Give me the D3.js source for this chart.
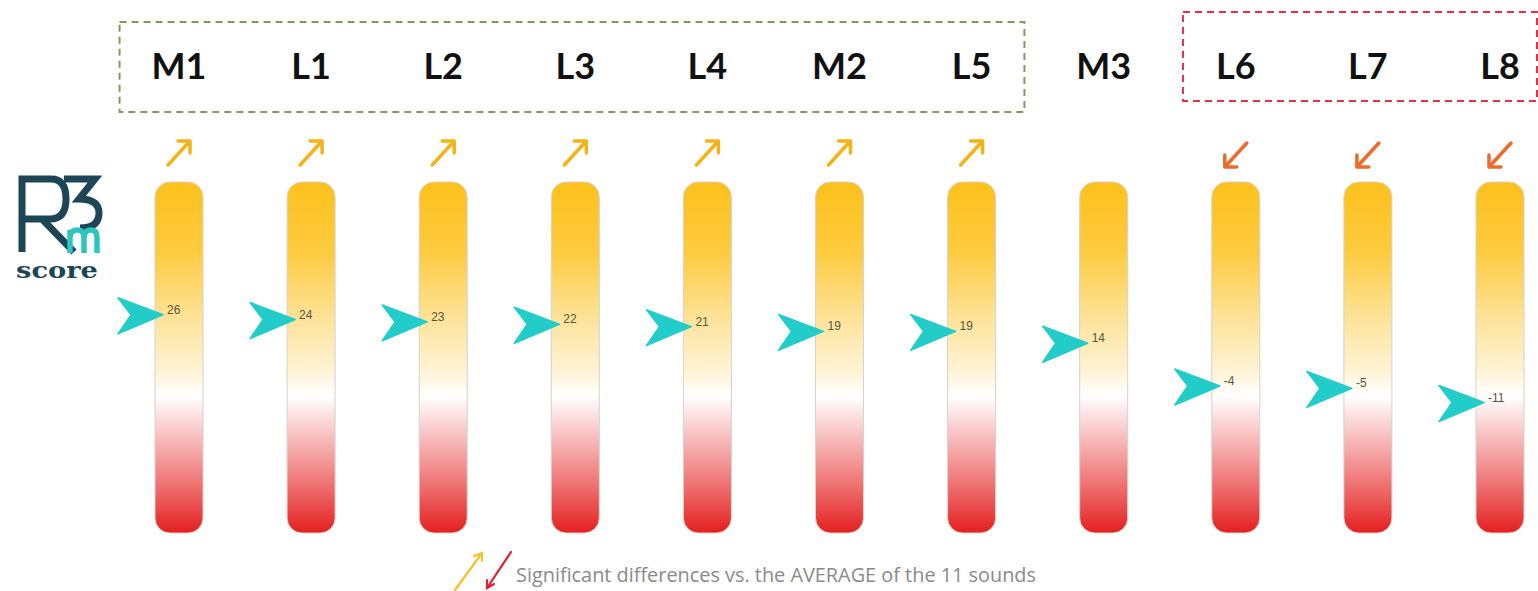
<!DOCTYPE html>
<html>
<head>
<meta charset="utf-8">
<script src="https://cdn.jsdelivr.net/npm/d3@7"></script>
<style>
  html, body { margin: 0; padding: 0; background: #ffffff; }
  svg { display: block; }
</style>
</head>
<body>
<div id="chart"></div>
<script>
// Sounds, their R3m scores and the direction of a significant gap vs. the average
const sounds = ["M1", "L1", "L2", "L3", "L4", "M2", "L5", "M3", "L6", "L7", "L8"];
const scores = [26, 24, 23, 22, 21, 19, 19, 14, -4, -5, -11];
const significance = ["up", "up", "up", "up", "up", "up", "up", "none", "down", "down", "down"];
const aboveAverage = ["M1", "L1", "L2", "L3", "L4", "M2", "L5"];
const belowAverage = ["L6", "L7", "L8"];
const scoreDomain = [-66, 82];
const legendText = "Significant differences vs. the AVERAGE of the 11 sounds";

const W = 1538, H = 591;
const svg = d3.select("#chart").append("svg")
  .attr("width", W).attr("height", H)
  .attr("viewBox", `0 0 ${W} ${H}`);

const x = d3.scalePoint().domain(sounds).range([179, 1500]);
const y = d3.scaleLinear().domain(scoreDomain).range([533, 182]);
const barW = 48;

const defs = svg.append("defs");
const grad = defs.append("linearGradient")
  .attr("id", "thermo").attr("x1", 0).attr("y1", 0).attr("x2", 0).attr("y2", 1);
[
  [0.00, "#fdc11c"],
  [0.20, "#fdcb40"],
  [0.38, "#fde295"],
  [0.54, "#fff3d6"],
  [0.61, "#ffffff"],
  [0.67, "#fbdede"],
  [0.78, "#f4a0a0"],
  [0.88, "#ed6868"],
  [1.00, "#e41f1f"]
].forEach(([o, c]) => grad.append("stop").attr("offset", o).attr("stop-color", c));

// R3m score logo
const logo = svg.append("g").attr("class", "logo");
logo.append("path")
  .attr("d", "M22,252 V179 H51 Q66,179 66,199 Q66,219 50,219 H24 M42,219 L74,252")
  .attr("fill", "none").attr("stroke", "#1c4656").attr("stroke-width", 7)
  .attr("stroke-linejoin", "miter");
logo.append("path")
  .attr("d", "M64,179 H95 L79,199 Q99,199 99,213 Q99,228 80,228")
  .attr("fill", "none").attr("stroke", "#1c4656").attr("stroke-width", 7);
logo.append("path")
  .attr("d", "M70,253 V230 M70,237 Q70,230 78,230 Q84,230 84,238 V253 M84,238 Q84,230 91,230 Q97,230 97,238 V253")
  .attr("fill", "none").attr("stroke", "#2cc6bf").attr("stroke-width", 5.5);
logo.append("text")
  .attr("x", 16).attr("y", 278)
  .attr("textLength", 82).attr("lengthAdjust", "spacingAndGlyphs")
  .attr("font-family", "DejaVu Serif").attr("font-weight", "bold")
  .attr("font-size", 23).attr("fill", "#1c4656")
  .text("score");

// Dashed group frames
const step = x.step();
svg.append("rect")
  .attr("x", x(aboveAverage[0]) - step * 0.45)
  .attr("y", 22)
  .attr("width", x(aboveAverage[aboveAverage.length - 1]) - x(aboveAverage[0]) + step * 0.85)
  .attr("height", 90)
  .attr("fill", "none").attr("stroke", "#7f9c5a").attr("stroke-width", 2)
  .attr("stroke-dasharray", "7,5");
svg.append("rect")
  .attr("x", x(belowAverage[0]) - step * 0.4)
  .attr("y", 12)
  .attr("width", W - 1 - (x(belowAverage[0]) - step * 0.4))
  .attr("height", 89)
  .attr("fill", "none").attr("stroke", "#e0324c").attr("stroke-width", 2)
  .attr("stroke-dasharray", "7,5");

// Sound names
svg.append("g").selectAll("text")
  .data(sounds).join("text")
  .attr("x", d => x(d)).attr("y", 79)
  .attr("text-anchor", "middle")
  .attr("font-family", "Lato").attr("font-weight", "bold")
  .attr("font-size", 36).attr("fill", "#111")
  .text(d => d);

// Significance arrows
const sig = svg.append("g").selectAll("g")
  .data(sounds.map((s, i) => ({ s, dir: significance[i] })).filter(d => d.dir !== "none"))
  .join("g")
  .attr("transform", d => `translate(${x(d.s)},${d.dir === "up" ? 153 : 155})`)
  .attr("fill", "none").attr("stroke-width", 3.5)
  .attr("stroke-linecap", "round").attr("stroke-linejoin", "round")
  .attr("stroke", d => d.dir === "up" ? "#f4b318" : "#ee6a2c");
sig.append("path")
  .attr("d", d => d.dir === "up"
    ? "M-11,12 L11,-12 M-1,-12 H11 V0"
    : "M11,-12 L-11,12 M-11,0 V12 H1");

// Thermometer bars
const bars = svg.append("g").selectAll("g")
  .data(sounds.map((s, i) => ({ s, v: scores[i] })))
  .join("g");
bars.append("rect")
  .attr("x", d => x(d.s) - barW / 2)
  .attr("y", y(scoreDomain[1]))
  .attr("width", barW)
  .attr("height", y(scoreDomain[0]) - y(scoreDomain[1]))
  .attr("rx", 15)
  .attr("fill", "url(#thermo)")
  .attr("stroke", "#d8d2c8").attr("stroke-width", 1);

// Score pointers and values
const tipOffset = 8;
bars.append("path")
  .attr("d", d => {
    const tx = x(d.s) - barW / 2 + tipOffset, ty = y(d.v);
    return `M${tx},${ty} L${tx - 45},${ty - 17} L${tx - 32},${ty} L${tx - 45},${ty + 19} Z`;
  })
  .attr("fill", "#22cdc9").attr("stroke", "#22cdc9").attr("stroke-width", 1.5)
  .attr("stroke-linejoin", "round");
bars.append("text")
  .attr("x", d => x(d.s) - barW / 2 + tipOffset + 4)
  .attr("y", d => y(d.v) - 1)
  .attr("font-family", "Liberation Sans").attr("font-size", 12)
  .attr("fill", "#5a5540")
  .text(d => d.v);

// Legend
const lg = svg.append("g").attr("fill", "none").attr("stroke-width", 2.2).attr("stroke-linecap", "round");
lg.append("path").attr("d", "M455,590 L482,553 M474,556 L482,553 L482,561").attr("stroke", "#f5c22a");
lg.append("path").attr("d", "M511,552 L487,588 M487,580 L487,588 L494,584").attr("stroke", "#e0202a");
svg.append("text")
  .attr("x", 516).attr("y", 582)
  .attr("textLength", 520).attr("lengthAdjust", "spacingAndGlyphs")
  .attr("font-family", "Open Sans").attr("font-size", 19.5)
  .attr("fill", "#8a8a8a")
  .text(legendText);
</script>
</body>
</html>
